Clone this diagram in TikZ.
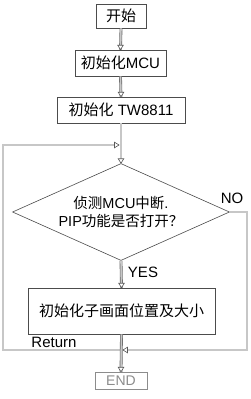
\documentclass[tikz,border=0pt]{standalone}
\usepackage{fontspec}
\setmainfont{Liberation Sans}
\newfontfamily\cjk{Noto Sans CJK SC}
\usetikzlibrary{shapes.geometric}
\tikzset{
  box/.style={draw=black!70, line width=0.6pt, fill=white, inner sep=0pt,
    font=\fontsize{15}{18}\selectfont},
  conn/.style={draw=black!60, double=black!22, double distance=1.6pt, line width=0.6pt},
  tri/.pic={\draw[black!65, fill=white, line width=0.6pt] (-2.8,-4.5) -- (2.8,-4.5) -- (0,0) -- cycle;},
  lbl/.style={font=\fontsize{15}{18}\selectfont, inner sep=0pt}
}
\begin{document}
\begin{tikzpicture}[x=1pt, y=-1pt]
\useasboundingbox (0,0) rectangle (250,399);
% nodes
\node[box, minimum width=50pt, minimum height=24pt] (start) at (121,16) {\cjk 开始};
\node[box, minimum width=91pt, minimum height=26pt] (mcu) at (120.5,63) {{\cjk 初始化}MCU};
\node[box, minimum width=128pt, minimum height=26pt] (tw) at (121,110) {{\cjk 初始化} TW8811};
\node[box, diamond, aspect=2.24, minimum width=217pt, minimum height=97pt, align=center,
  font=\fontsize{14.5}{18}\selectfont] (dia) at (121,212)
  {{\cjk 侦测}MCU{\cjk 中断}.\\PIP{\cjk 功能是否打开？}};
\node[box, minimum width=187pt, minimum height=46pt] (sub) at (121.5,311) {\cjk 初始化子画面位置及大小};
\node[box, draw=black!45, text=black!45, line width=0.5pt, minimum width=52pt, minimum height=17pt,
  font=\fontsize{14}{16}\selectfont] (end) at (121,380.5) {END};
% junctions
\coordinate (j1) at (121,145);
\coordinate (j2) at (121,350);
\coordinate (lt) at (3,145);
\coordinate (lb) at (3,350);
\coordinate (rt) at (247,212);
\coordinate (rb) at (247,350);
% connectors
\draw[conn] (start.south) -- (mcu.north);
\draw[conn] (mcu.south) -- (tw.north);
\draw[conn] (tw.south) -- (dia.north);
\draw[conn] (j2) -- (lb) -- (lt) -- ([xshift=-2pt]j1);
\draw[conn] (dia.east) -- (rt) -- (rb) -- ([xshift=2pt]j2);
\draw[conn] (dia.south) -- (sub.north);
\draw[conn] (sub.south) -- (end.north);
% arrow tips
\pic at (mcu.north) {tri};
\pic at (tw.north) {tri};
\pic at (dia.north) {tri};
\pic at (sub.north) {tri};
\pic at (end.north) {tri};
\pic[rotate=90] at ([xshift=-2pt]j1) {tri};
\pic[rotate=-90] at ([xshift=2pt]j2) {tri};
% labels
\node[lbl] (no) at (232,198) {NO};
\node[lbl] (yes) at (143,272) {YES};
\node[lbl] (ret) at (54,342) {Return};
\end{tikzpicture}
\end{document}
